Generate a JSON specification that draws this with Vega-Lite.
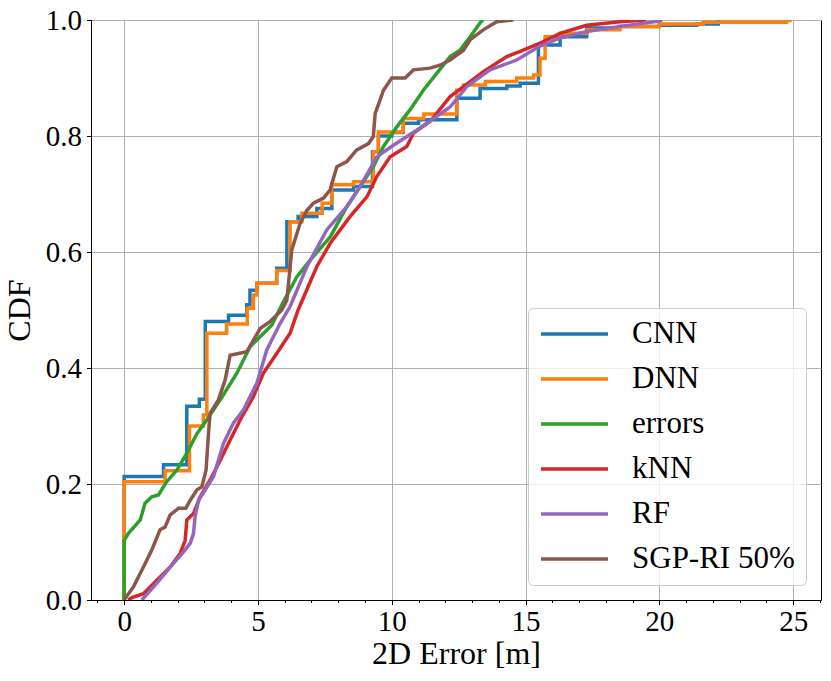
{
  "$schema": "https://vega.github.io/schema/vega-lite/v6.json",
  "width": 730,
  "height": 580,
  "autosize": {"type": "none"},
  "padding": {"left": 91, "top": 20, "right": 10, "bottom": 81},
  "background": "white",
  "config": {
    "font": "Liberation Serif",
    "view": {"stroke": "black", "strokeWidth": 1},
    "axis": {
      "domainColor": "black", "domainWidth": 1,
      "tickColor": "black", "tickWidth": 1,
      "gridColor": "#b0b0b0", "gridWidth": 1,
      "labelFont": "Liberation Serif", "labelFontSize": 29, "labelColor": "black",
      "titleFont": "Liberation Serif", "titleFontSize": 32, "titleFontWeight": "normal", "titleColor": "black",
      "labelFlush": false, "labelOverlap": false, "labelBound": false
    },
    "legend": {
      "labelFont": "Liberation Serif", "labelFontSize": 31, "labelColor": "black"
    }
  },
  "data": {"values": [
    {"m":"CNN","i":0,"x":0,"y":0},{"m":"CNN","i":1,"x":0,"y":0.213},{"m":"CNN","i":2,"x":1.47,"y":0.233},{"m":"CNN","i":3,"x":2.34,"y":0.334},{"m":"CNN","i":4,"x":2.81,"y":0.346},{"m":"CNN","i":5,"x":3.03,"y":0.48},{"m":"CNN","i":6,"x":3.9,"y":0.491},{"m":"CNN","i":7,"x":4.58,"y":0.509},{"m":"CNN","i":8,"x":4.7,"y":0.534},{"m":"CNN","i":9,"x":4.96,"y":0.546},{"m":"CNN","i":10,"x":5.7,"y":0.572},{"m":"CNN","i":11,"x":6.08,"y":0.652},{"m":"CNN","i":12,"x":6.5,"y":0.661},{"m":"CNN","i":13,"x":7.2,"y":0.675},{"m":"CNN","i":14,"x":7.76,"y":0.707},{"m":"CNN","i":15,"x":8.57,"y":0.713},{"m":"CNN","i":16,"x":9.28,"y":0.773},{"m":"CNN","i":17,"x":9.5,"y":0.8},{"m":"CNN","i":18,"x":10.0,"y":0.806},{"m":"CNN","i":19,"x":10.43,"y":0.822},{"m":"CNN","i":20,"x":11.0,"y":0.828},{"m":"CNN","i":21,"x":12.43,"y":0.865},{"m":"CNN","i":22,"x":13.3,"y":0.882},{"m":"CNN","i":23,"x":14.3,"y":0.886},{"m":"CNN","i":24,"x":14.8,"y":0.891},{"m":"CNN","i":25,"x":15.48,"y":0.957},{"m":"CNN","i":26,"x":16.29,"y":0.971},{"m":"CNN","i":27,"x":17.28,"y":0.986},{"m":"CNN","i":28,"x":18.5,"y":0.989},{"m":"CNN","i":29,"x":20.0,"y":0.991},{"m":"CNN","i":30,"x":21.4,"y":0.993},{"m":"CNN","i":31,"x":22.2,"y":1.0},
    {"m":"DNN","i":0,"x":0,"y":0},{"m":"DNN","i":1,"x":0,"y":0.204},{"m":"DNN","i":2,"x":1.53,"y":0.223},{"m":"DNN","i":3,"x":2.44,"y":0.3},{"m":"DNN","i":4,"x":2.96,"y":0.319},{"m":"DNN","i":5,"x":3.09,"y":0.46},{"m":"DNN","i":6,"x":3.83,"y":0.476},{"m":"DNN","i":7,"x":4.6,"y":0.503},{"m":"DNN","i":8,"x":4.83,"y":0.526},{"m":"DNN","i":9,"x":4.96,"y":0.546},{"m":"DNN","i":10,"x":5.7,"y":0.568},{"m":"DNN","i":11,"x":6.2,"y":0.652},{"m":"DNN","i":12,"x":6.64,"y":0.667},{"m":"DNN","i":13,"x":7.4,"y":0.684},{"m":"DNN","i":14,"x":7.76,"y":0.716},{"m":"DNN","i":15,"x":8.57,"y":0.721},{"m":"DNN","i":16,"x":9.31,"y":0.773},{"m":"DNN","i":17,"x":9.5,"y":0.807},{"m":"DNN","i":18,"x":10.43,"y":0.83},{"m":"DNN","i":19,"x":11.2,"y":0.838},{"m":"DNN","i":20,"x":12.43,"y":0.879},{"m":"DNN","i":21,"x":12.68,"y":0.888},{"m":"DNN","i":22,"x":13.5,"y":0.894},{"m":"DNN","i":23,"x":14.67,"y":0.9},{"m":"DNN","i":24,"x":15.3,"y":0.905},{"m":"DNN","i":25,"x":15.54,"y":0.934},{"m":"DNN","i":26,"x":15.73,"y":0.971},{"m":"DNN","i":27,"x":16.3,"y":0.977},{"m":"DNN","i":28,"x":17.3,"y":0.983},{"m":"DNN","i":29,"x":18.53,"y":0.989},{"m":"DNN","i":30,"x":20.0,"y":0.993},{"m":"DNN","i":31,"x":21.64,"y":0.996},{"m":"DNN","i":32,"x":24.75,"y":0.999},{"m":"DNN","i":33,"x":24.88,"y":1.0},
    {"m":"errors","i":0,"x":0,"y":0},{"m":"errors","i":1,"x":0,"y":0.103},{"m":"errors","i":2,"x":0.16,"y":0.115},{"m":"errors","i":3,"x":0.6,"y":0.138},{"m":"errors","i":4,"x":0.78,"y":0.167},{"m":"errors","i":5,"x":1.03,"y":0.178},{"m":"errors","i":6,"x":1.28,"y":0.181},{"m":"errors","i":7,"x":1.59,"y":0.204},{"m":"errors","i":8,"x":1.97,"y":0.224},{"m":"errors","i":9,"x":2.34,"y":0.253},{"m":"errors","i":10,"x":2.72,"y":0.287},{"m":"errors","i":11,"x":3.03,"y":0.307},{"m":"errors","i":12,"x":3.59,"y":0.345},{"m":"errors","i":13,"x":4.21,"y":0.391},{"m":"errors","i":14,"x":4.71,"y":0.437},{"m":"errors","i":15,"x":5.08,"y":0.454},{"m":"errors","i":16,"x":5.52,"y":0.474},{"m":"errors","i":17,"x":5.9,"y":0.51},{"m":"errors","i":18,"x":6.45,"y":0.557},{"m":"errors","i":19,"x":6.95,"y":0.586},{"m":"errors","i":20,"x":7.7,"y":0.626},{"m":"errors","i":21,"x":8.32,"y":0.678},{"m":"errors","i":22,"x":8.82,"y":0.713},{"m":"errors","i":23,"x":9.31,"y":0.747},{"m":"errors","i":24,"x":9.69,"y":0.782},{"m":"errors","i":25,"x":10.19,"y":0.816},{"m":"errors","i":26,"x":10.68,"y":0.845},{"m":"errors","i":27,"x":11.18,"y":0.879},{"m":"errors","i":28,"x":11.68,"y":0.908},{"m":"errors","i":29,"x":12.18,"y":0.937},{"m":"errors","i":30,"x":12.55,"y":0.948},{"m":"errors","i":31,"x":12.93,"y":0.971},{"m":"errors","i":32,"x":13.3,"y":0.995},{"m":"errors","i":33,"x":13.4,"y":1.0},
    {"m":"kNN","i":0,"x":0.15,"y":0},{"m":"kNN","i":1,"x":0.29,"y":0.004},{"m":"kNN","i":2,"x":0.72,"y":0.011},{"m":"kNN","i":3,"x":1.22,"y":0.034},{"m":"kNN","i":4,"x":1.72,"y":0.057},{"m":"kNN","i":5,"x":2.09,"y":0.08},{"m":"kNN","i":6,"x":2.28,"y":0.103},{"m":"kNN","i":7,"x":2.34,"y":0.138},{"m":"kNN","i":8,"x":2.59,"y":0.149},{"m":"kNN","i":9,"x":2.84,"y":0.178},{"m":"kNN","i":10,"x":3.21,"y":0.207},{"m":"kNN","i":11,"x":3.59,"y":0.241},{"m":"kNN","i":12,"x":3.96,"y":0.276},{"m":"kNN","i":13,"x":4.33,"y":0.31},{"m":"kNN","i":14,"x":4.83,"y":0.351},{"m":"kNN","i":15,"x":5.2,"y":0.391},{"m":"kNN","i":16,"x":5.7,"y":0.425},{"m":"kNN","i":17,"x":6.2,"y":0.46},{"m":"kNN","i":18,"x":6.5,"y":0.5},{"m":"kNN","i":19,"x":7.2,"y":0.575},{"m":"kNN","i":20,"x":7.7,"y":0.615},{"m":"kNN","i":21,"x":8.44,"y":0.661},{"m":"kNN","i":22,"x":9.07,"y":0.695},{"m":"kNN","i":23,"x":9.44,"y":0.73},{"m":"kNN","i":24,"x":9.94,"y":0.764},{"m":"kNN","i":25,"x":10.56,"y":0.782},{"m":"kNN","i":26,"x":10.81,"y":0.805},{"m":"kNN","i":27,"x":11.43,"y":0.825},{"m":"kNN","i":28,"x":12.18,"y":0.868},{"m":"kNN","i":29,"x":12.68,"y":0.885},{"m":"kNN","i":30,"x":13.42,"y":0.911},{"m":"kNN","i":31,"x":14.3,"y":0.937},{"m":"kNN","i":32,"x":14.8,"y":0.946},{"m":"kNN","i":33,"x":15.54,"y":0.96},{"m":"kNN","i":34,"x":16.29,"y":0.977},{"m":"kNN","i":35,"x":17.28,"y":0.991},{"m":"kNN","i":36,"x":18.53,"y":0.997},{"m":"kNN","i":37,"x":19.5,"y":1.0},
    {"m":"RF","i":0,"x":0.66,"y":0},{"m":"RF","i":1,"x":1.22,"y":0.029},{"m":"RF","i":2,"x":1.84,"y":0.063},{"m":"RF","i":3,"x":2.22,"y":0.083},{"m":"RF","i":4,"x":2.47,"y":0.098},{"m":"RF","i":5,"x":2.59,"y":0.115},{"m":"RF","i":6,"x":2.65,"y":0.144},{"m":"RF","i":7,"x":2.78,"y":0.172},{"m":"RF","i":8,"x":3.03,"y":0.19},{"m":"RF","i":9,"x":3.34,"y":0.213},{"m":"RF","i":10,"x":3.71,"y":0.27},{"m":"RF","i":11,"x":4.08,"y":0.305},{"m":"RF","i":12,"x":4.46,"y":0.328},{"m":"RF","i":13,"x":4.96,"y":0.374},{"m":"RF","i":14,"x":5.33,"y":0.431},{"m":"RF","i":15,"x":5.83,"y":0.477},{"m":"RF","i":16,"x":6.2,"y":0.506},{"m":"RF","i":17,"x":6.83,"y":0.575},{"m":"RF","i":18,"x":7.57,"y":0.638},{"m":"RF","i":19,"x":8.32,"y":0.678},{"m":"RF","i":20,"x":8.82,"y":0.713},{"m":"RF","i":21,"x":9.44,"y":0.764},{"m":"RF","i":22,"x":10.06,"y":0.784},{"m":"RF","i":23,"x":10.93,"y":0.81},{"m":"RF","i":24,"x":12.18,"y":0.85},{"m":"RF","i":25,"x":12.8,"y":0.885},{"m":"RF","i":26,"x":13.67,"y":0.914},{"m":"RF","i":27,"x":14.67,"y":0.931},{"m":"RF","i":28,"x":15.54,"y":0.955},{"m":"RF","i":29,"x":16.29,"y":0.969},{"m":"RF","i":30,"x":17.28,"y":0.98},{"m":"RF","i":31,"x":18.53,"y":0.989},{"m":"RF","i":32,"x":20.0,"y":0.998},{"m":"RF","i":33,"x":20.1,"y":1.0},
    {"m":"SGP-RI 50%","i":0,"x":0,"y":0},{"m":"SGP-RI 50%","i":1,"x":0.04,"y":0.003},{"m":"SGP-RI 50%","i":2,"x":0.35,"y":0.023},{"m":"SGP-RI 50%","i":3,"x":0.72,"y":0.057},{"m":"SGP-RI 50%","i":4,"x":1.03,"y":0.086},{"m":"SGP-RI 50%","i":5,"x":1.34,"y":0.121},{"m":"SGP-RI 50%","i":6,"x":1.53,"y":0.126},{"m":"SGP-RI 50%","i":7,"x":1.72,"y":0.147},{"m":"SGP-RI 50%","i":8,"x":2.03,"y":0.158},{"m":"SGP-RI 50%","i":9,"x":2.3,"y":0.158},{"m":"SGP-RI 50%","i":10,"x":2.47,"y":0.172},{"m":"SGP-RI 50%","i":11,"x":2.72,"y":0.19},{"m":"SGP-RI 50%","i":12,"x":2.9,"y":0.195},{"m":"SGP-RI 50%","i":13,"x":3.06,"y":0.224},{"m":"SGP-RI 50%","i":14,"x":3.15,"y":0.287},{"m":"SGP-RI 50%","i":15,"x":3.21,"y":0.322},{"m":"SGP-RI 50%","i":16,"x":3.52,"y":0.345},{"m":"SGP-RI 50%","i":17,"x":3.77,"y":0.379},{"m":"SGP-RI 50%","i":18,"x":3.96,"y":0.422},{"m":"SGP-RI 50%","i":19,"x":4.58,"y":0.428},{"m":"SGP-RI 50%","i":20,"x":4.83,"y":0.448},{"m":"SGP-RI 50%","i":21,"x":5.08,"y":0.468},{"m":"SGP-RI 50%","i":22,"x":5.45,"y":0.48},{"m":"SGP-RI 50%","i":23,"x":5.89,"y":0.5},{"m":"SGP-RI 50%","i":24,"x":6.08,"y":0.517},{"m":"SGP-RI 50%","i":25,"x":6.26,"y":0.603},{"m":"SGP-RI 50%","i":26,"x":6.57,"y":0.649},{"m":"SGP-RI 50%","i":27,"x":6.83,"y":0.672},{"m":"SGP-RI 50%","i":28,"x":7.07,"y":0.684},{"m":"SGP-RI 50%","i":29,"x":7.45,"y":0.693},{"m":"SGP-RI 50%","i":30,"x":7.7,"y":0.707},{"m":"SGP-RI 50%","i":31,"x":7.76,"y":0.718},{"m":"SGP-RI 50%","i":32,"x":7.95,"y":0.747},{"m":"SGP-RI 50%","i":33,"x":8.32,"y":0.756},{"m":"SGP-RI 50%","i":34,"x":8.69,"y":0.776},{"m":"SGP-RI 50%","i":35,"x":9.13,"y":0.787},{"m":"SGP-RI 50%","i":36,"x":9.31,"y":0.799},{"m":"SGP-RI 50%","i":37,"x":9.38,"y":0.839},{"m":"SGP-RI 50%","i":38,"x":9.56,"y":0.862},{"m":"SGP-RI 50%","i":39,"x":9.69,"y":0.879},{"m":"SGP-RI 50%","i":40,"x":10.0,"y":0.9},{"m":"SGP-RI 50%","i":41,"x":10.5,"y":0.9},{"m":"SGP-RI 50%","i":42,"x":10.81,"y":0.914},{"m":"SGP-RI 50%","i":43,"x":11.43,"y":0.917},{"m":"SGP-RI 50%","i":44,"x":11.8,"y":0.922},{"m":"SGP-RI 50%","i":45,"x":12.18,"y":0.931},{"m":"SGP-RI 50%","i":46,"x":12.68,"y":0.948},{"m":"SGP-RI 50%","i":47,"x":12.93,"y":0.966},{"m":"SGP-RI 50%","i":48,"x":13.42,"y":0.983},{"m":"SGP-RI 50%","i":49,"x":13.92,"y":0.997},{"m":"SGP-RI 50%","i":50,"x":14.54,"y":1.0}
  ]},
  "encoding": {
    "y": {
      "field": "y", "type": "quantitative",
      "scale": {"domain": [0, 1], "nice": false, "zero": false},
      "axis": {"values": [0, 0.2, 0.4, 0.6, 0.8, 1.0], "format": ".1f", "title": "CDF", "tickSize": 4.5, "labelPadding": 5, "titlePadding": 9, "grid": true}
    },
    "color": {
      "field": "m", "type": "nominal",
      "scale": {"domain": ["CNN", "DNN", "errors", "kNN", "RF", "SGP-RI 50%"], "range": ["#1f77b4", "#ff7f0e", "#2ca02c", "#d62728", "#9467bd", "#8c564b"]},
      "legend": {
        "title": null, "orient": "none", "legendX": 437, "legendY": 288,
        "symbolType": "stroke", "symbolStrokeWidth": 3.7, "symbolSize": 4489,
        "labelOffset": 22, "clipHeight": 30, "rowPadding": 14, "padding": 11,
        "fillColor": "rgba(255,255,255,0.8)", "strokeColor": "#cccccc", "cornerRadius": 5, "labelLimit": 400
      }
    },
    "order": {"field": "i", "type": "quantitative"}
  },
  "layer": [
    {
      "transform": [{"filter": {"field": "m", "oneOf": ["CNN", "DNN"]}}],
      "mark": {"type": "line", "interpolate": "step-after", "strokeWidth": 3.5, "clip": true},
      "encoding": {
        "x": {
          "field": "x", "type": "quantitative",
          "scale": {"domain": [-1.24, 26.04], "nice": false, "zero": false},
          "axis": {"orient": "bottom", "values": [0, 5, 10, 15, 20, 25], "title": "2D Error [m]", "tickSize": 4.5, "labelPadding": 3, "titlePadding": 2, "grid": true}
        }
      }
    },
    {
      "transform": [{"filter": {"field": "m", "oneOf": ["errors", "kNN", "RF", "SGP-RI 50%"]}}],
      "mark": {"type": "line", "strokeWidth": 3.5, "clip": true},
      "encoding": {
        "x": {
          "field": "x", "type": "quantitative",
          "scale": {"domain": [-1.24, 26.04], "nice": false, "zero": false},
          "axis": {"orient": "bottom", "values": [-1, 1, 2, 3, 4, 6, 7, 8, 9, 11, 12, 13, 14, 16, 17, 18, 19, 21, 22, 23, 24, 26], "labels": false, "grid": false, "domain": false, "title": null, "tickSize": 2.5}
        }
      }
    }
  ],
  "resolve": {"axis": {"x": "independent"}}
}
